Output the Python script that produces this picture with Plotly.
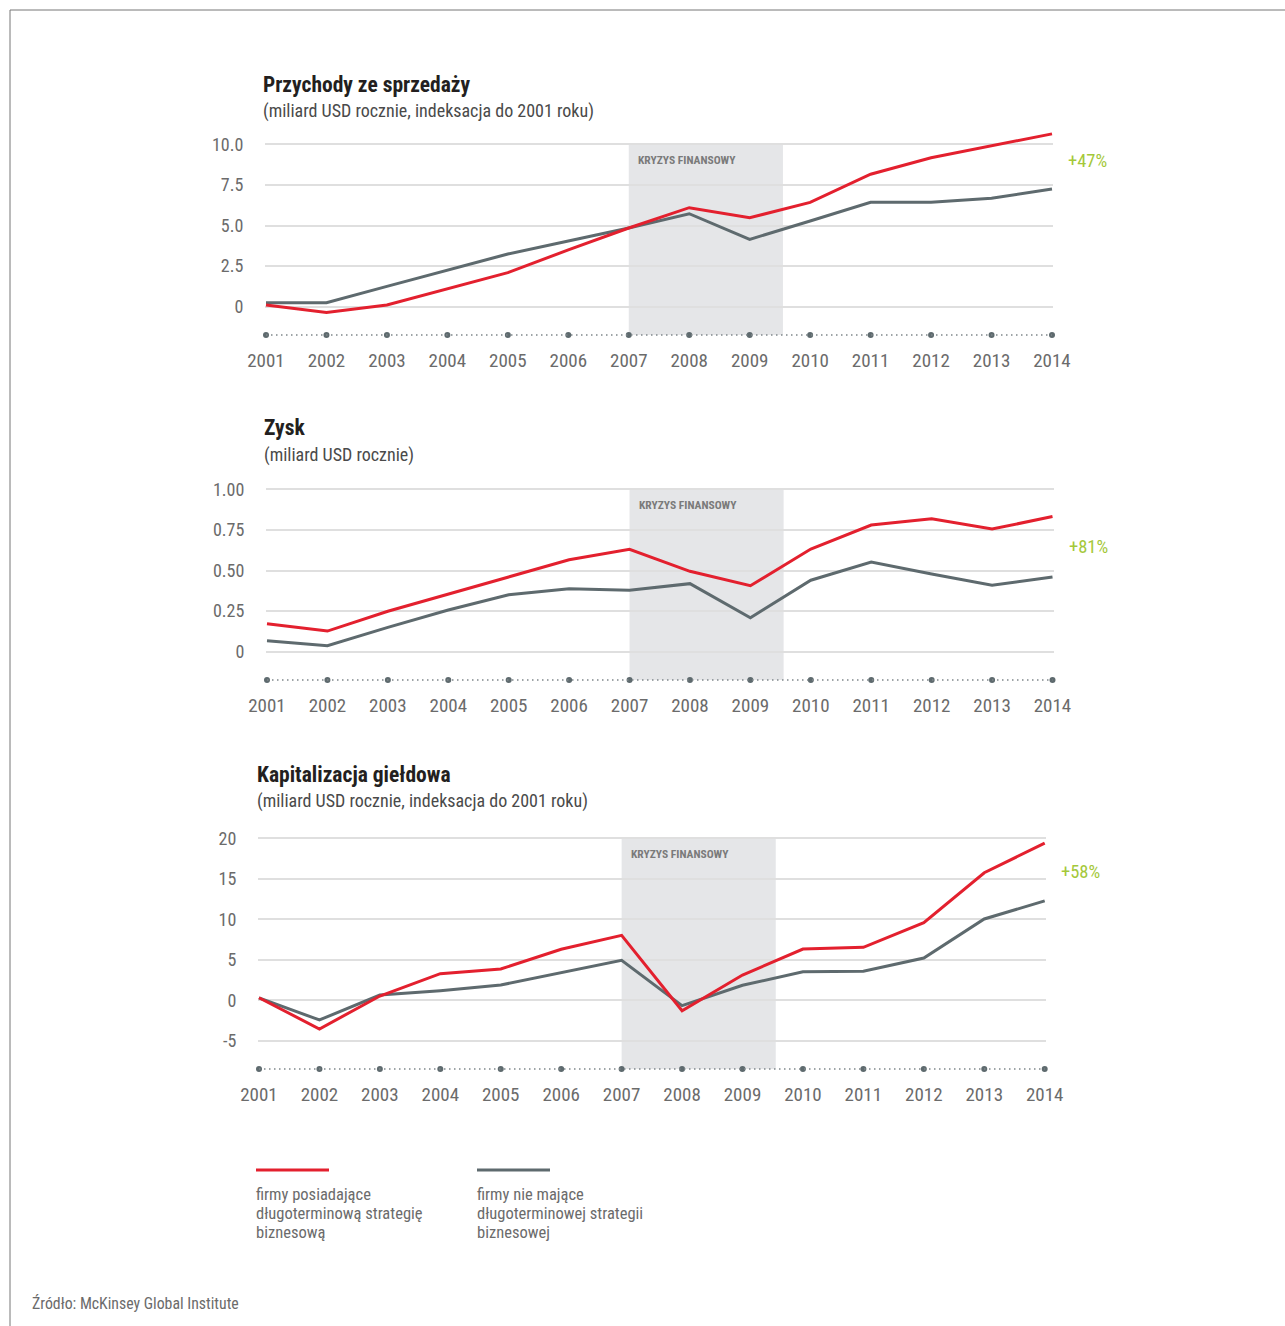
import plotly.graph_objects as go

# ---------------------------------------------------------------- data
years = list(range(2001, 2015))
year_labels = [str(y) for y in years]

# Przychody ze sprzedaży (miliard USD, indeksacja do 2001)
sales_long = [0.10, -0.35, 0.10, 1.10, 2.10, 3.50, 4.85, 6.10, 5.48, 6.43, 8.16, 9.18, 9.90, 10.65]
sales_short = [0.25, 0.25, 1.25, 2.25, 3.25, 4.05, 4.85, 5.73, 4.15, 5.28, 6.43, 6.43, 6.68, 7.25]

# Zysk (miliard USD)
profit_long = [0.172, 0.127, 0.249, 0.355, 0.462, 0.566, 0.630, 0.495, 0.406, 0.632, 0.780, 0.819, 0.755, 0.832]
profit_short = [0.068, 0.037, 0.150, 0.257, 0.351, 0.388, 0.378, 0.419, 0.209, 0.440, 0.552, 0.478, 0.409, 0.460]

# Kapitalizacja giełdowa (miliard USD, indeksacja do 2001)
cap_long = [0.32, -3.54, 0.53, 3.29, 3.86, 6.30, 8.02, -1.28, 3.12, 6.33, 6.54, 9.58, 15.75, 19.40]
cap_short = [0.30, -2.43, 0.65, 1.19, 1.89, 3.41, 4.94, -0.66, 1.85, 3.53, 3.58, 5.22, 10.04, 12.28]

sales_ticks = [0, 2.5, 5, 7.5, 10]
sales_ticktext = ["0", "2.5", "5.0", "7.5", "10.0"]
profit_ticks = [0, 0.25, 0.5, 0.75, 1.0]
profit_ticktext = ["0", "0.25", "0.50", "0.75", "1.00"]
cap_ticks = [-5, 0, 5, 10, 15, 20]
cap_ticktext = ["-5", "0", "5", "10", "15", "20"]

crisis_start, crisis_end = 2007, 2009.55
crisis_label = "KRYZYS FINANSOWY"

growth_labels = ["+47%", "+81%", "+58%"]

titles = ["Przychody ze sprzedaży", "Zysk", "Kapitalizacja giełdowa"]
subtitles = [
    "(miliard USD rocznie, indeksacja do 2001 roku)",
    "(miliard USD rocznie)",
    "(miliard USD rocznie, indeksacja do 2001 roku)",
]
legend_long = ["firmy posiadające", "długoterminową strategię", "biznesową"]
legend_short = ["firmy nie mające", "długoterminowej strategii", "biznesowej"]
source_text = "Źródło: McKinsey Global Institute"

# ---------------------------------------------------------------- style
W, H = 1285, 1326
FONT = "Liberation Sans Narrow, Roboto Condensed, Arial Narrow, DejaVu Sans Condensed, sans-serif"
RED = "#e3202e"
GREY = "#5e6a6e"
GREEN = "#a4c83a"
TICK_COL = "#6b6b6b"
GRID_COL = "#dfdfdf"
SHADE_COL = "#e5e6e8"


def px_x(p):
    return p / W


def px_y(p):
    return 1 - p / H


panels = [
    dict(long=sales_long, short=sales_short, ticks=sales_ticks, ticktext=sales_ticktext,
         xdom=(265, 1053), xrange=(2000.9835, 2014.0165),
         ydom=(130, 338), yrange=(-1.929, 10.887), baseline=-1.74, top=10,
         title_xy=(263, 84), sub_xy=(263, 111)),
    dict(long=profit_long, short=profit_short, ticks=profit_ticks, ticktext=profit_ticktext,
         xdom=(266, 1054), xrange=(2000.9834, 2014.0248),
         ydom=(484, 683), yrange=(-0.1927, 1.0326), baseline=-0.174, top=1.0,
         title_xy=(264, 428), sub_xy=(264, 455)),
    dict(long=cap_long, short=cap_short, ticks=cap_ticks, ticktext=cap_ticktext,
         xdom=(258, 1046), xrange=(2000.9835, 2014.0215),
         ydom=(834, 1072), yrange=(-8.85, 20.53), baseline=-8.48, top=20,
         title_xy=(257, 774), sub_xy=(257, 801)),
]

fig = go.Figure()
shapes = []
annotations = []

for i, p in enumerate(panels):
    n = "" if i == 0 else str(i + 1)
    xa, ya = "x" + n, "y" + n

    # crisis band (below gridlines)
    shapes.append(dict(type="rect", xref=xa, yref=ya, x0=crisis_start, x1=crisis_end,
                       y0=p["baseline"], y1=p["top"], fillcolor=SHADE_COL,
                       line=dict(width=0), layer="below"))
    # dotted year baseline
    shapes.append(dict(type="line", xref=xa, yref=ya, x0=years[0], x1=years[-1],
                       y0=p["baseline"], y1=p["baseline"],
                       line=dict(color="#7f878a", width=1.5, dash="1.5px,3.5px"), layer="above"))
    fig.add_trace(go.Scatter(x=years, y=[p["baseline"]] * len(years), mode="markers",
                             marker=dict(size=6, color=GREY), cliponaxis=False,
                             hoverinfo="skip", showlegend=False, xaxis=xa, yaxis=ya))

    # series
    fig.add_trace(go.Scatter(x=years, y=p["short"], mode="lines",
                             line=dict(color=GREY, width=3), showlegend=False,
                             xaxis=xa, yaxis=ya))
    fig.add_trace(go.Scatter(x=years, y=p["long"], mode="lines",
                             line=dict(color=RED, width=3), showlegend=False,
                             xaxis=xa, yaxis=ya))

    # gap marker at 2014
    shapes.append(dict(type="line", xref=xa, yref=ya, xsizemode="pixel", xanchor=years[-1],
                       x0=8, x1=8, y0=p["short"][-1], y1=p["long"][-1],
                       line=dict(color="#9a9a9a", width=1.5, dash="1.5px,2.5px")))
    annotations.append(dict(xref=xa, yref=ya, x=years[-1], y=(p["short"][-1] + p["long"][-1]) / 2,
                            xanchor="left", yanchor="middle", xshift=14, showarrow=False,
                            text=growth_labels[i], font=dict(family=FONT, size=18.5, color=GREEN)))

    # crisis caption
    annotations.append(dict(xref=xa, yref=ya, x=crisis_start, y=p["top"], xanchor="left",
                            yanchor="middle", xshift=7, yshift=-16, showarrow=False,
                            text="<b>" + crisis_label + "</b>",
                            font=dict(family=FONT, size=11.5, color="#7a7a7a")))

    # titles
    tx, ty = p["title_xy"]
    annotations.append(dict(xref="paper", yref="paper", x=px_x(tx - 2), y=px_y(ty), xanchor="left",
                            yanchor="middle", showarrow=False, text="<b>" + titles[i] + "</b>",
                            font=dict(family=FONT, size=21.5, color="#231f20")))
    sx, sy = p["sub_xy"]
    annotations.append(dict(xref="paper", yref="paper", x=px_x(sx - 2), y=px_y(sy), xanchor="left",
                            yanchor="middle", showarrow=False, text=subtitles[i],
                            font=dict(family=FONT, size=18, color="#4a4a4a")))

    fig.update_layout(**{
        ("xaxis" + n): dict(domain=[px_x(p["xdom"][0]), px_x(p["xdom"][1])], range=list(p["xrange"]),
                            anchor=ya, tickvals=years, ticktext=year_labels, showgrid=False,
                            zeroline=False, showline=False, ticks="outside", ticklen=5,
                            tickcolor="rgba(0,0,0,0)", automargin=False,
                            tickfont=dict(family=FONT, size=19, color=TICK_COL), fixedrange=True),
        ("yaxis" + n): dict(domain=[px_y(p["ydom"][1]), px_y(p["ydom"][0])], range=list(p["yrange"]),
                            anchor=xa, tickvals=p["ticks"], ticktext=p["ticktext"], showgrid=True,
                            gridcolor=GRID_COL, gridwidth=1.6, zeroline=False, showline=False,
                            ticks="outside", ticklen=17, tickcolor="rgba(0,0,0,0)", automargin=False,
                            tickfont=dict(family=FONT, size=18, color=TICK_COL), fixedrange=True),
    })

# legend
for x0, col, lines in [(256, RED, legend_long), (477, GREY, legend_short)]:
    shapes.append(dict(type="line", xref="paper", yref="paper", x0=px_x(x0), x1=px_x(x0 + 73),
                       y0=px_y(1170), y1=px_y(1170), line=dict(color=col, width=3)))
    for k, line_txt in enumerate(lines):
        annotations.append(dict(xref="paper", yref="paper", x=px_x(x0 - 2), y=px_y(1194 + 19 * k),
                                xanchor="left", yanchor="middle", showarrow=False, text=line_txt,
                                font=dict(family=FONT, size=16.5, color="#6b6b6b")))

annotations.append(dict(xref="paper", yref="paper", x=px_x(30), y=px_y(1303), xanchor="left",
                        yanchor="middle", showarrow=False, text=source_text,
                        font=dict(family=FONT, size=15.8, color="#6b6b6b")))

# frame
shapes.append(dict(type="line", xref="paper", yref="paper", x0=px_x(10), x1=1, y0=px_y(10), y1=px_y(10),
                   line=dict(color="#777777", width=1)))
shapes.append(dict(type="line", xref="paper", yref="paper", x0=px_x(10), x1=px_x(10), y0=0, y1=px_y(10),
                   line=dict(color="#777777", width=1)))

fig.update_layout(width=W, height=H, autosize=False, margin=dict(l=0, r=0, t=0, b=0, pad=0),
                  paper_bgcolor="white", plot_bgcolor="white", showlegend=False,
                  shapes=shapes, annotations=annotations, font=dict(family=FONT))

fig.write_html(
    "out.html",
    config={"displayModeBar": False, "responsive": False},
    post_script="document.body.style.margin='0';document.body.style.overflow='hidden';",
)
